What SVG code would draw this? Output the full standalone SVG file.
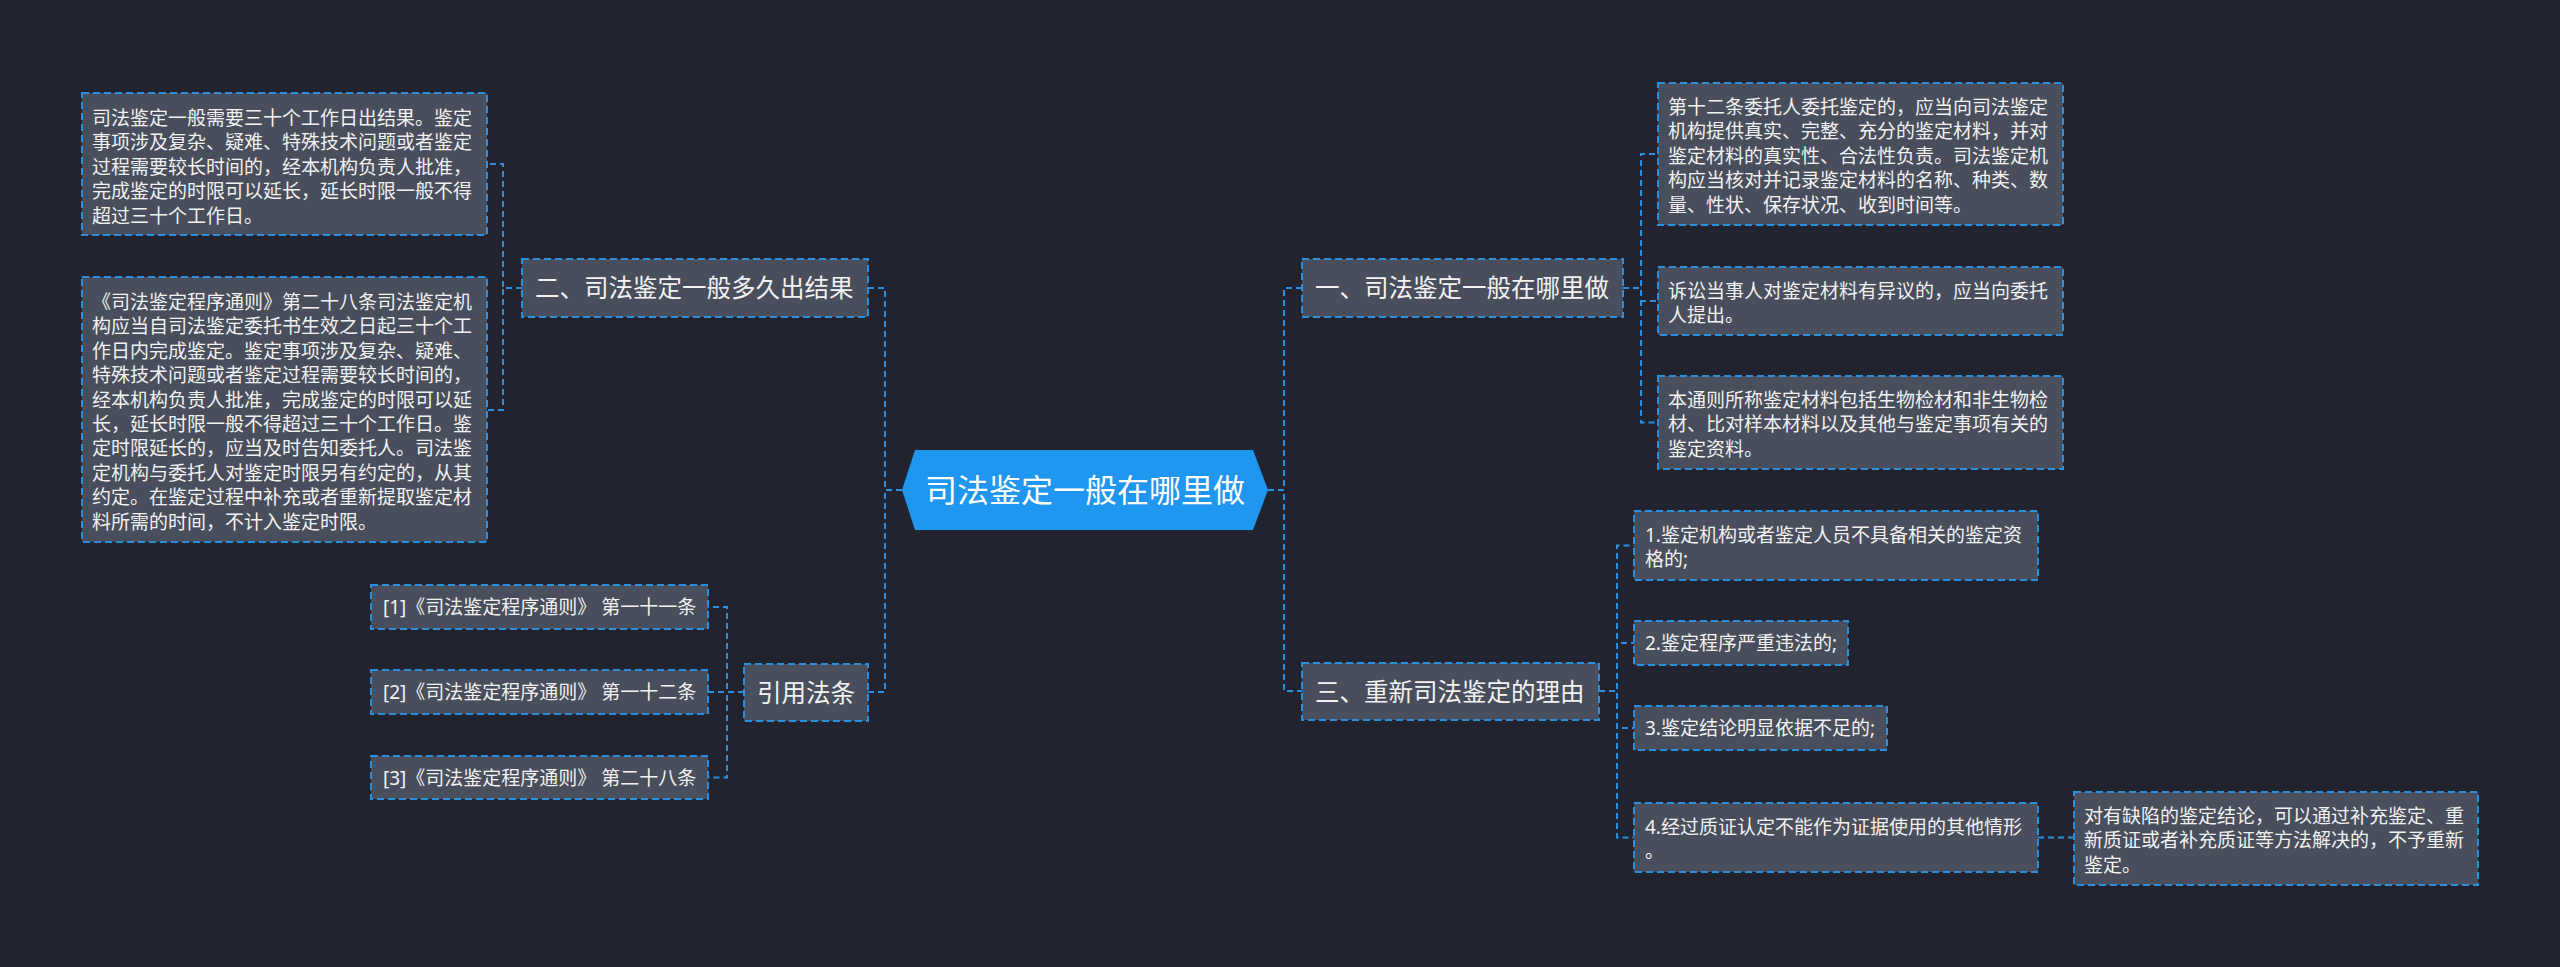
<svg xmlns="http://www.w3.org/2000/svg" width="2560" height="967" viewBox="0 0 2560 967">
<style>
.bg{fill:#21242f}
.box{fill:#484e5c;stroke:#2a8fe0;stroke-width:2;stroke-dasharray:7 4}
.t{font-family:"Noto Sans","Noto Sans CJK SC",sans-serif;fill:#f2f2f2}
.s{font-size:19px}
.m{font-size:24.5px}
.c{font-size:32px;fill:#ffffff}
.ln{fill:none;stroke:#2a8fe0;stroke-width:2;stroke-dasharray:6 4}
</style>
<rect class="bg" x="0" y="0" width="2560" height="967"/>
<g id="connectors">
<path class="ln" d="M1268 490 H1284 V288 H1302"/>
<path class="ln" d="M1268 490 H1284 V691 H1302"/>
<path class="ln" d="M902 490 H885 V288 H868"/>
<path class="ln" d="M902 490 H885 V692 H868"/>
<path class="ln" d="M1623 288 H1641 V154 H1658"/>
<path class="ln" d="M1623 288 H1641 V301 H1658"/>
<path class="ln" d="M1623 288 H1641 V422.5 H1658"/>
<path class="ln" d="M1599 691 H1617 V545.5 H1634"/>
<path class="ln" d="M1599 691 H1617 V643 H1634"/>
<path class="ln" d="M1599 691 H1617 V728 H1634"/>
<path class="ln" d="M1599 691 H1617 V837.5 H1634"/>
<path class="ln" d="M2038 837.5 H2074"/>
<path class="ln" d="M522 288 H503 V164 H487"/>
<path class="ln" d="M522 288 H503 V410 H487"/>
<path class="ln" d="M744 692 H727 V607 H708"/>
<path class="ln" d="M744 692 H727 V692 H708"/>
<path class="ln" d="M744 692 H727 V777.5 H708"/>
</g>
<g id="center">
<polygon points="902,490 915,450 1253,450 1268,490 1253,530 915,530" fill="#1f96ef"/>
<text class="t c" x="1085" y="502" text-anchor="middle">司法鉴定一般在哪里做</text>
</g>
<g id="n1">
<rect class="box" x="1302" y="259" width="321" height="58"/>
<text class="t m" x="1315" y="297">一、司法鉴定一般在哪里做</text>
</g>
<g id="n3">
<rect class="box" x="1302" y="663" width="297" height="57"/>
<text class="t m" x="1315" y="701">三、重新司法鉴定的理由</text>
</g>
<g id="n2">
<rect class="box" x="522" y="259" width="346" height="58"/>
<text class="t m" x="535" y="297">二、司法鉴定一般多久出结果</text>
</g>
<g id="n4">
<rect class="box" x="744" y="664" width="124" height="57"/>
<text class="t m" x="757" y="702">引用法条</text>
</g>
<g id="n1a">
<rect class="box" x="1658" y="83" width="405" height="142"/>
<text class="t s" x="1668" y="114">
<tspan x="1668" y="114">第十二条委托人委托鉴定的，应当向司法鉴定</tspan>
<tspan x="1668" y="138.4">机构提供真实、完整、充分的鉴定材料，并对</tspan>
<tspan x="1668" y="162.8">鉴定材料的真实性、合法性负责。司法鉴定机</tspan>
<tspan x="1668" y="187.2">构应当核对并记录鉴定材料的名称、种类、数</tspan>
<tspan x="1668" y="211.6">量、性状、保存状况、收到时间等。</tspan>
</text>
</g>
<g id="n1b">
<rect class="box" x="1658" y="267" width="405" height="68"/>
<text class="t s">
<tspan x="1668" y="298">诉讼当事人对鉴定材料有异议的，应当向委托</tspan>
<tspan x="1668" y="322.4">人提出。</tspan>
</text>
</g>
<g id="n1c">
<rect class="box" x="1658" y="376" width="405" height="93"/>
<text class="t s">
<tspan x="1668" y="407">本通则所称鉴定材料包括生物检材和非生物检</tspan>
<tspan x="1668" y="431.4">材、比对样本材料以及其他与鉴定事项有关的</tspan>
<tspan x="1668" y="455.8">鉴定资料。</tspan>
</text>
</g>
<g id="n3a">
<rect class="box" x="1634" y="511" width="404" height="69"/>
<text class="t s">
<tspan x="1645" y="542">1.鉴定机构或者鉴定人员不具备相关的鉴定资</tspan>
<tspan x="1645" y="566.4">格的;</tspan>
</text>
</g>
<g id="n3b">
<rect class="box" x="1634" y="621" width="214" height="44"/>
<text class="t s" x="1645" y="650">2.鉴定程序严重违法的;</text>
</g>
<g id="n3c">
<rect class="box" x="1634" y="706" width="253" height="44"/>
<text class="t s" x="1645" y="735">3.鉴定结论明显依据不足的;</text>
</g>
<g id="n3d">
<rect class="box" x="1634" y="803" width="404" height="69"/>
<text class="t s">
<tspan x="1645" y="834">4.经过质证认定不能作为证据使用的其他情形</tspan>
<tspan x="1645" y="858.4">。</tspan>
</text>
</g>
<g id="n3e">
<rect class="box" x="2074" y="792" width="404" height="93"/>
<text class="t s">
<tspan x="2084" y="823">对有缺陷的鉴定结论，可以通过补充鉴定、重</tspan>
<tspan x="2084" y="847.4">新质证或者补充质证等方法解决的，不予重新</tspan>
<tspan x="2084" y="871.8">鉴定。</tspan>
</text>
</g>
<g id="n2a">
<rect class="box" x="82" y="93" width="405" height="142"/>
<text class="t s">
<tspan x="92" y="125">司法鉴定一般需要三十个工作日出结果。鉴定</tspan>
<tspan x="92" y="149.4">事项涉及复杂、疑难、特殊技术问题或者鉴定</tspan>
<tspan x="92" y="173.8">过程需要较长时间的，经本机构负责人批准，</tspan>
<tspan x="92" y="198.2">完成鉴定的时限可以延长，延长时限一般不得</tspan>
<tspan x="92" y="222.6">超过三十个工作日。</tspan>
</text>
</g>
<g id="n2b">
<rect class="box" x="82" y="277" width="405" height="265"/>
<text class="t s">
<tspan x="92" y="309">《司法鉴定程序通则》第二十八条司法鉴定机</tspan>
<tspan x="92" y="333.4">构应当自司法鉴定委托书生效之日起三十个工</tspan>
<tspan x="92" y="357.8">作日内完成鉴定。鉴定事项涉及复杂、疑难、</tspan>
<tspan x="92" y="382.2">特殊技术问题或者鉴定过程需要较长时间的，</tspan>
<tspan x="92" y="406.6">经本机构负责人批准，完成鉴定的时限可以延</tspan>
<tspan x="92" y="431">长，延长时限一般不得超过三十个工作日。鉴</tspan>
<tspan x="92" y="455.4">定时限延长的，应当及时告知委托人。司法鉴</tspan>
<tspan x="92" y="479.8">定机构与委托人对鉴定时限另有约定的，从其</tspan>
<tspan x="92" y="504.2">约定。在鉴定过程中补充或者重新提取鉴定材</tspan>
<tspan x="92" y="528.6">料所需的时间，不计入鉴定时限。</tspan>
</text>
</g>
<g id="n4a">
<rect class="box" x="371" y="585" width="337" height="44"/>
<text class="t s" x="383" y="614">[1]《司法鉴定程序通则》 第一十一条</text>
</g>
<g id="n4b">
<rect class="box" x="371" y="670" width="337" height="44"/>
<text class="t s" x="383" y="699">[2]《司法鉴定程序通则》 第一十二条</text>
</g>
<g id="n4c">
<rect class="box" x="371" y="756" width="337" height="43"/>
<text class="t s" x="383" y="785">[3]《司法鉴定程序通则》 第二十八条</text>
</g>
</svg>
